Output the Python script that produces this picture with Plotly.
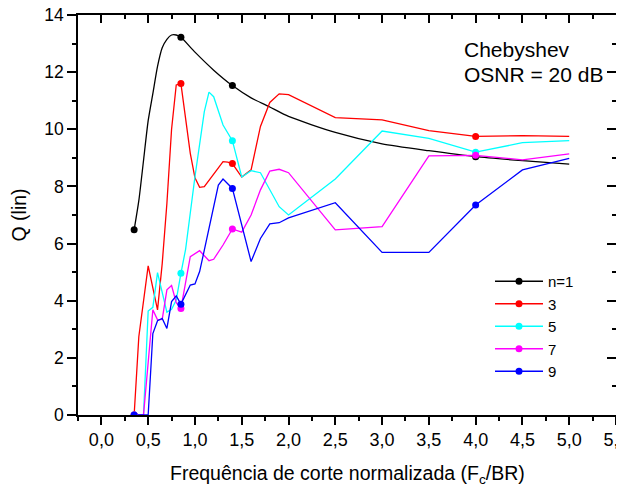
import plotly.graph_objects as go

# ---- data ----
x_n1 = [0.35, 0.40, 0.45, 0.50, 0.55, 0.60, 0.65, 0.70, 0.75, 0.80, 0.85, 1.00, 1.20, 1.40, 1.60, 1.80, 2.00, 2.50, 3.00, 3.50, 4.00, 4.50, 5.00]
q_n1 = [6.48, 7.50, 8.90, 10.30, 11.25, 12.20, 12.85, 13.15, 13.30, 13.30, 13.22, 12.70, 12.07, 11.53, 11.10, 10.78, 10.45, 9.89, 9.49, 9.25, 9.04, 8.90, 8.78]

x_n3 = [0.35, 0.40, 0.50, 0.60, 0.65, 0.70, 0.75, 0.80, 0.85, 0.90, 0.95, 1.00, 1.05, 1.10, 1.20, 1.30, 1.35, 1.40, 1.50, 1.60, 1.70, 1.80, 1.90, 2.00, 2.50, 3.00, 3.50, 4.00, 4.50, 5.00]
q_n3 = [0.00, 2.74, 5.22, 3.68, 5.30, 7.40, 10.00, 11.55, 11.60, 10.30, 9.16, 8.30, 7.97, 7.99, 8.45, 8.87, 8.85, 8.80, 8.33, 8.58, 10.10, 10.94, 11.24, 11.21, 10.41, 10.33, 9.95, 9.75, 9.78, 9.75]

x_n5 = [0.35, 0.45, 0.50, 0.55, 0.60, 0.70, 0.75, 0.80, 0.85, 0.90, 1.00, 1.10, 1.15, 1.20, 1.30, 1.35, 1.40, 1.50, 1.60, 1.70, 1.90, 2.00, 2.50, 3.00, 3.50, 4.00, 4.50, 5.00]
q_n5 = [0.00, 0.00, 3.64, 3.77, 4.98, 3.60, 3.70, 4.02, 4.96, 5.80, 8.34, 10.62, 11.30, 11.14, 10.15, 9.86, 9.60, 8.33, 8.55, 8.48, 7.29, 7.00, 8.26, 9.94, 9.68, 9.20, 9.53, 9.60]

x_n7 = [0.35, 0.45, 0.55, 0.60, 0.65, 0.70, 0.75, 0.80, 0.85, 0.95, 1.05, 1.15, 1.20, 1.30, 1.40, 1.50, 1.60, 1.70, 1.80, 1.90, 2.00, 2.50, 3.00, 3.50, 4.00, 4.50, 5.00]
q_n7 = [0.00, 0.00, 3.68, 3.33, 3.35, 4.38, 4.53, 3.93, 3.73, 5.54, 5.75, 5.40, 5.45, 5.95, 6.51, 6.40, 7.00, 7.88, 8.54, 8.60, 8.48, 6.48, 6.59, 9.07, 9.09, 8.93, 9.14]

x_n9 = [0.35, 0.40, 0.45, 0.50, 0.55, 0.60, 0.65, 0.70, 0.75, 0.80, 0.85, 0.95, 1.00, 1.05, 1.10, 1.20, 1.25, 1.30, 1.35, 1.40, 1.60, 1.70, 1.80, 1.90, 2.00, 2.50, 3.00, 3.50, 4.00, 4.50, 5.00]
q_n9 = [0.00, 0.00, 0.00, 0.00, 2.85, 3.30, 3.38, 3.03, 3.97, 4.17, 3.88, 4.55, 4.59, 5.02, 5.77, 7.29, 8.05, 8.26, 8.11, 7.93, 5.37, 6.18, 6.69, 6.73, 6.90, 7.43, 5.69, 5.69, 7.35, 8.58, 8.98]

marker_x = [0.35, 0.85, 1.40, 4.00]

series_names = ["n=1", "3", "5", "7", "9"]
series_colors = ["#000000", "#FF0000", "#00FFFF", "#FF00FF", "#0000FF"]
series_x = [x_n1, x_n3, x_n5, x_n7, x_n9]
series_q = [q_n1, q_n3, q_n5, q_n7, q_n9]

x_ticks = [0.0, 0.5, 1.0, 1.5, 2.0, 2.5, 3.0, 3.5, 4.0, 4.5, 5.0, 5.5]
x_ticklabels = ["0,0", "0,5", "1,0", "1,5", "2,0", "2,5", "3,0", "3,5", "4,0", "4,5", "5,0", "5,5"]
y_ticks = [0, 2, 4, 6, 8, 10, 12, 14]

x_title = "Frequência de corte normalizada (F<sub>c</sub>/BR)"
y_title = "Q (lin)"

FONT = "Liberation Sans, Arial, sans-serif"

fig = go.Figure()

# lines
for name, col, xs, qs in zip(series_names, series_colors, series_x, series_q):
    fig.add_trace(go.Scatter(x=xs, y=qs, mode="lines",
                             line=dict(color=col, width=1.3,
                                       shape="spline" if name == "n=1" else "linear",
                                       smoothing=0.6),
                             showlegend=False, hoverinfo="skip"))
# markers at selected abscissas
for name, col, xs, qs in zip(series_names, series_colors, series_x, series_q):
    mx = [x for x in xs if any(abs(x - m) < 1e-9 for m in marker_x)]
    my = [q for x, q in zip(xs, qs) if any(abs(x - m) < 1e-9 for m in marker_x)]
    fig.add_trace(go.Scatter(x=mx, y=my, mode="markers",
                             marker=dict(color=col, size=7),
                             showlegend=False, hoverinfo="skip"))
# legend entries
for name, col in zip(series_names, series_colors):
    fig.add_trace(go.Scatter(x=[None], y=[None], mode="lines+markers", name=name,
                             line=dict(color=col, width=1.3),
                             marker=dict(color=col, size=7)))

# mirrored axes with inward ticks
fig.add_trace(go.Scatter(x=[None], y=[None], xaxis="x2", yaxis="y2", showlegend=False))

axis_common = dict(showgrid=False, zeroline=False, linecolor="black", linewidth=1.5,
                   tickcolor="black", tickwidth=1.5, automargin=False)

# the page body adds an 8 px margin, so the figure is 8 px smaller each way
fig.update_layout(
    width=616, height=476,
    margin=dict(l=70, r=8, t=7, b=69),
    paper_bgcolor="white", plot_bgcolor="white",
    font=dict(family=FONT, size=18, color="black"),
    xaxis=dict(range=[-0.25, 5.5], tickvals=x_ticks, ticktext=x_ticklabels,
               ticks="outside", ticklen=8, ticklabeloverflow="allow",
               ticklabelstandoff=0,
               minor=dict(dtick=0.25, tick0=0, ticks="outside", ticklen=4,
                          tickcolor="black", tickwidth=1.5),
               tickfont=dict(size=18), **axis_common),
    yaxis=dict(range=[0, 14], tickvals=y_ticks,
               ticks="outside", ticklen=9, ticklabeloverflow="allow",
               minor=dict(dtick=1, tick0=0, ticks="outside", ticklen=4,
                          tickcolor="black", tickwidth=1.5),
               title=dict(text=y_title, font=dict(size=19.5), standoff=14),
               tickfont=dict(size=17.5), **axis_common),
    xaxis2=dict(overlaying="x", side="top", range=[-0.25, 5.5], tickvals=x_ticks,
                showticklabels=False, ticks="inside", ticklen=8,
                minor=dict(dtick=0.25, tick0=0, ticks="inside", ticklen=4,
                           tickcolor="black", tickwidth=1.5),
                **axis_common),
    yaxis2=dict(overlaying="y", side="right", range=[0, 14], tickvals=y_ticks,
                showticklabels=False, ticks="inside", ticklen=9,
                minor=dict(dtick=1, tick0=0, ticks="inside", ticklen=4,
                           tickcolor="black", tickwidth=1.5),
                **axis_common),
    legend=dict(x=(490 - 78) / 538, y=1 - (265 - 15) / 400, xanchor="left", yanchor="top",
                bgcolor="rgba(0,0,0,0)", font=dict(size=15), itemwidth=48,
                tracegroupgap=0),
    annotations=[
        dict(text="Chebyshev", x=(462 - 78) / 538, y=1 - (36 - 15) / 400,
             xref="paper", yref="paper", xanchor="left", yanchor="top",
             showarrow=False, font=dict(size=21)),
        dict(text="OSNR = 20 dB", x=(462 - 78) / 538, y=1 - (61 - 15) / 400,
             xref="paper", yref="paper", xanchor="left", yanchor="top",
             showarrow=False, font=dict(size=21)),
        dict(text=x_title, x=0.5, y=-(474 - 415) / 400,
             xref="paper", yref="paper", xanchor="center", yanchor="middle",
             showarrow=False, font=dict(size=19.5)),
    ],
)

fig.write_html("out.html")
